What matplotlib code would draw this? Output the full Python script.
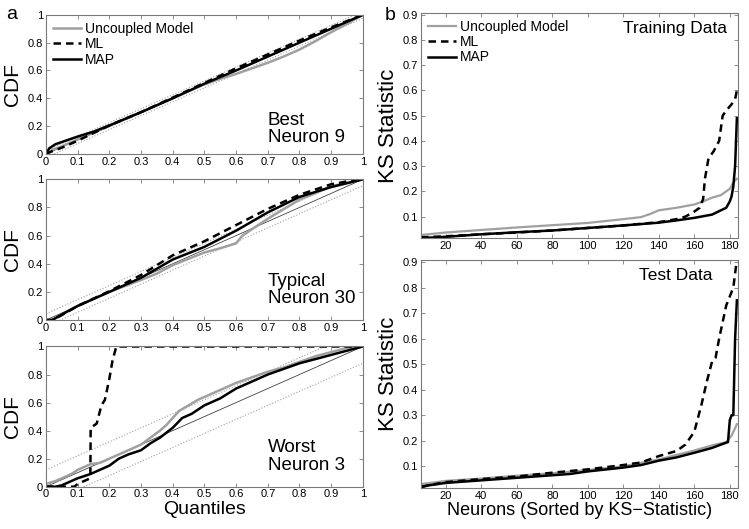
import matplotlib.pyplot as plt

plt.rcParams['font.family'] = ['Liberation Sans', 'DejaVu Sans']

# ---- panel a : time-rescaling CDFs (quantile, cdf) ----
best_unc_q = [0, 0.02, 0.05, 0.1, 0.2, 0.3, 0.4, 0.5, 0.55, 0.6, 0.65, 0.7, 0.75, 0.8, 0.85, 0.9, 0.95, 1]
best_unc_c = [0, 0.03, 0.055, 0.105, 0.2, 0.3, 0.4, 0.5, 0.54, 0.575, 0.615, 0.655, 0.7, 0.75, 0.81, 0.875, 0.935, 1]
best_ml_q = [0, 0.02, 0.05, 0.1, 0.15, 0.2, 0.3, 0.4, 0.5, 0.6, 0.7, 0.8, 0.9, 1]
best_ml_c = [0, 0.02, 0.045, 0.095, 0.15, 0.205, 0.3, 0.405, 0.51, 0.615, 0.715, 0.815, 0.91, 1]
best_map_q = [0, 0.01, 0.03, 0.1, 0.15, 0.2, 0.3, 0.4, 0.5, 0.6, 0.7, 0.8, 0.9, 1]
best_map_c = [0, 0.04, 0.07, 0.125, 0.16, 0.205, 0.3, 0.4, 0.505, 0.6, 0.7, 0.8, 0.9, 1]

typ_unc_q = [0, 0.02, 0.05, 0.1, 0.2, 0.3, 0.35, 0.4, 0.5, 0.55, 0.6, 0.62, 0.7, 0.8, 0.9, 1]
typ_unc_c = [0, 0.0, 0.04, 0.1, 0.2, 0.285, 0.33, 0.39, 0.48, 0.51, 0.545, 0.6, 0.72, 0.855, 0.95, 1]
typ_ml_q = [0, 0.02, 0.05, 0.1, 0.2, 0.3, 0.4, 0.5, 0.6, 0.7, 0.8, 0.9, 0.95, 1]
typ_ml_c = [0, 0.0, 0.035, 0.1, 0.205, 0.32, 0.46, 0.56, 0.675, 0.79, 0.89, 0.965, 0.985, 1]
typ_map_q = [0, 0.02, 0.05, 0.1, 0.2, 0.3, 0.4, 0.5, 0.6, 0.7, 0.8, 0.9, 1]
typ_map_c = [0, 0.0, 0.04, 0.1, 0.2, 0.3, 0.43, 0.52, 0.635, 0.765, 0.875, 0.945, 1]

worst_unc_q = [0, 0.03, 0.05, 0.08, 0.1, 0.12, 0.14, 0.17, 0.2, 0.23, 0.26, 0.3, 0.33, 0.36, 0.38,
               0.4, 0.42, 0.45, 0.48, 0.5, 0.55, 0.6, 0.65, 0.7, 0.75, 0.8, 0.85, 0.9, 0.95, 1]
worst_unc_c = [0.02, 0.04, 0.06, 0.09, 0.12, 0.14, 0.16, 0.17, 0.2, 0.23, 0.26, 0.3, 0.35, 0.4, 0.44,
               0.49, 0.54, 0.58, 0.62, 0.64, 0.69, 0.74, 0.78, 0.82, 0.85, 0.89, 0.93, 0.96, 0.99, 1]
worst_ml_q = [0, 0.06, 0.09, 0.1, 0.12, 0.14, 0.141, 0.16, 0.175, 0.186, 0.2, 0.21, 0.222, 1]
worst_ml_c = [0, 0, 0.0, 0.02, 0.04, 0.06, 0.42, 0.45, 0.58, 0.62, 0.77, 0.9, 1.0, 1]
worst_map_q = [0, 0.03, 0.05, 0.08, 0.1, 0.14, 0.17, 0.2, 0.23, 0.26, 0.3, 0.33, 0.36, 0.4, 0.43,
               0.46, 0.5, 0.55, 0.6, 0.65, 0.7, 0.75, 0.8, 0.85, 0.9, 0.95, 1]
worst_map_c = [0, 0, 0.01, 0.04, 0.06, 0.09, 0.12, 0.15, 0.2, 0.23, 0.26, 0.31, 0.35, 0.42, 0.49,
               0.52, 0.58, 0.63, 0.7, 0.75, 0.8, 0.84, 0.88, 0.91, 0.94, 0.97, 1]

# 95% confidence band half widths
bands = [0.025, 0.045, 0.12]
panel_names = ['Best\nNeuron 9', 'Typical\nNeuron 30', 'Worst\nNeuron 3']

# ---- panel b : sorted KS statistics ----
train_unc_n = [6, 20, 40, 60, 80, 100, 120, 130, 135, 140, 150, 160, 165, 170, 175, 180, 182, 184]
train_unc_ks = [0.027, 0.037, 0.047, 0.057, 0.066, 0.075, 0.09, 0.098, 0.11, 0.125, 0.135, 0.148,
                0.16, 0.175, 0.185, 0.21, 0.235, 0.25]
train_ml_n = [6, 20, 40, 60, 80, 100, 120, 140, 150, 155, 160, 163, 165, 166, 168, 171, 174, 175,
              176, 178, 181, 183, 184]
train_ml_ks = [0.018, 0.022, 0.03, 0.037, 0.045, 0.055, 0.065, 0.078, 0.09, 0.1, 0.12, 0.135, 0.17,
               0.25, 0.33, 0.36, 0.4, 0.45, 0.5, 0.52, 0.545, 0.565, 0.6]
train_map_n = [6, 20, 40, 60, 80, 100, 120, 140, 150, 160, 170, 175, 178, 180, 181, 182, 183, 184]
train_map_ks = [0.015, 0.02, 0.03, 0.038, 0.045, 0.055, 0.065, 0.076, 0.085, 0.095, 0.108, 0.125,
                0.135, 0.16, 0.18, 0.22, 0.3, 0.49]

test_unc_n = [6, 20, 40, 60, 80, 100, 120, 140, 160, 170, 178, 181, 184]
test_unc_ks = [0.03, 0.043, 0.052, 0.063, 0.073, 0.085, 0.1, 0.127, 0.162, 0.182, 0.195, 0.22, 0.265]
test_ml_n = [6, 20, 40, 60, 80, 100, 120, 130, 140, 150, 155, 160, 164, 167, 170, 172, 174, 178, 182, 184]
test_ml_ks = [0.02, 0.038, 0.05, 0.06, 0.075, 0.088, 0.105, 0.115, 0.14, 0.16, 0.185, 0.235, 0.34,
              0.43, 0.51, 0.525, 0.6, 0.73, 0.8, 0.91]
test_map_n = [6, 10, 20, 40, 60, 80, 90, 100, 120, 130, 140, 150, 160, 170, 175, 179, 180, 181, 182, 183, 184]
test_map_ks = [0.018, 0.025, 0.035, 0.045, 0.055, 0.065, 0.07, 0.08, 0.095, 0.105, 0.122, 0.135, 0.153,
               0.172, 0.185, 0.195, 0.28, 0.3, 0.3, 0.6, 0.75]

gray = '#a0a0a0'
box = '#7a7a7a'


def style_axes(ax):
    for s in ax.spines.values():
        s.set_color(box)
        s.set_linewidth(0.8)
    ax.tick_params(direction='in', top=True, right=True, length=3, width=0.6,
                   color=box, labelsize=8, pad=2)


fig = plt.figure(figsize=(7.49, 5.29), dpi=100)

# left column
left_axes = [fig.add_axes([0.0614, 0.709, 0.423, 0.263]),
             fig.add_axes([0.0614, 0.395, 0.423, 0.266]),
             fig.add_axes([0.0614, 0.080, 0.423, 0.265])]
curves = [(best_unc_q, best_unc_c, best_ml_q, best_ml_c, best_map_q, best_map_c),
          (typ_unc_q, typ_unc_c, typ_ml_q, typ_ml_c, typ_map_q, typ_map_c),
          (worst_unc_q, worst_unc_c, worst_ml_q, worst_ml_c, worst_map_q, worst_map_c)]

for i, ax in enumerate(left_axes):
    uq, uc, mq, mc, pq, pc = curves[i]
    b = bands[i]
    ax.plot([0, 1], [0, 1], color='#404040', lw=0.6)
    ax.plot([0, 1], [b, 1 + b], color=gray, lw=0.8, ls=':')
    ax.plot([0, 1], [-b, 1 - b], color=gray, lw=0.8, ls=':')
    ax.plot(uq, uc, color=gray, lw=1.8, label='Uncoupled Model')
    ax.plot(mq, mc, color='black', lw=1.8, ls=(0, (3, 2)), label='ML')
    ax.plot(pq, pc, color='black', lw=1.8, label='MAP')
    ax.set_xlim(0, 1)
    ax.set_ylim(0, 1)
    ax.set_xticks([0, 0.1, 0.2, 0.3, 0.4, 0.5, 0.6, 0.7, 0.8, 0.9, 1])
    ax.set_xticklabels(['0', '0.1', '0.2', '0.3', '0.4', '0.5', '0.6', '0.7', '0.8', '0.9', '1'])
    ax.set_yticks([0, 0.2, 0.4, 0.6, 0.8, 1])
    ax.set_yticklabels(['0', '0.2', '0.4', '0.6', '0.8', '1'])
    style_axes(ax)
    ax.set_ylabel('CDF', fontsize=15)
    ax.yaxis.set_label_coords(-0.075, 0.5)
    ax.text(0.70, 0.055 if i == 0 else 0.09, panel_names[i], fontsize=13.5,
            transform=ax.transAxes, va='bottom', ha='left', linespacing=1.05)

left_axes[0].legend(loc='upper left', frameon=False, fontsize=10, handlelength=2.0,
                    handletextpad=0.3, labelspacing=0.1, borderaxespad=0.2, borderpad=0.3)
left_axes[2].set_xlabel('Quantiles', fontsize=14, labelpad=1)

# right column
right_axes = [fig.add_axes([0.562, 0.5495, 0.423, 0.4265]),
              fig.add_axes([0.562, 0.077, 0.423, 0.4316])]
ks_data = [(train_unc_n, train_unc_ks, train_ml_n, train_ml_ks, train_map_n, train_map_ks),
           (test_unc_n, test_unc_ks, test_ml_n, test_ml_ks, test_map_n, test_map_ks)]
titles = ['Training Data', 'Test Data']
title_x = [0.965, 0.92]

for i, ax in enumerate(right_axes):
    un, uk, mn, mk, pn, pk = ks_data[i]
    ax.plot(un, uk, color=gray, lw=1.6, label='Uncoupled Model')
    ax.plot(mn, mk, color='black', lw=1.8, ls=(0, (3, 2)), label='ML')
    ax.plot(pn, pk, color='black', lw=1.8, label='MAP')
    ax.set_xlim(6, 184.5)
    ax.set_ylim(0.014, 0.908)
    ax.set_xticks([20, 40, 60, 80, 100, 120, 140, 160, 180])
    ax.set_yticks([0.1, 0.2, 0.3, 0.4, 0.5, 0.6, 0.7, 0.8, 0.9])
    style_axes(ax)
    ax.set_ylabel('KS Statistic', fontsize=16)
    ax.yaxis.set_label_coords(-0.068, 0.5)
    ax.text(title_x[i], 0.93, titles[i], fontsize=12.5, transform=ax.transAxes,
            ha='right', va='center')

right_axes[0].legend(loc='upper left', frameon=False, fontsize=10, handlelength=2.0,
                     handletextpad=0.3, labelspacing=0.1, borderaxespad=0.2, borderpad=0.3)
right_axes[1].set_xlabel('Neurons (Sorted by KS\u2212Statistic)', fontsize=13, labelpad=1)

fig.text(0.016, 0.972, 'a', fontsize=14, va='center', ha='center')
fig.text(0.521, 0.970, 'b', fontsize=14, va='center', ha='center')

fig.savefig('out.png', dpi=100)
